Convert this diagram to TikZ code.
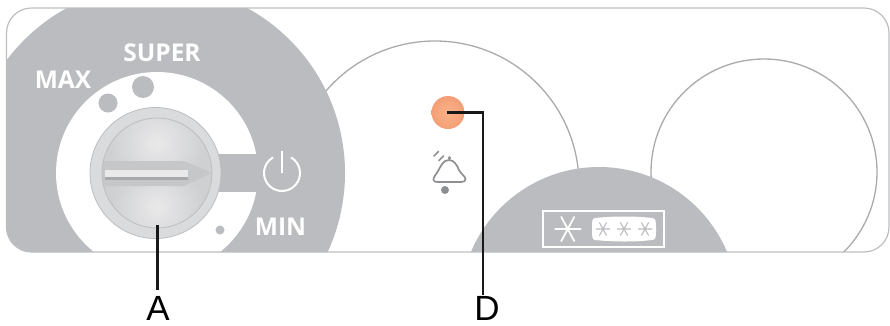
\documentclass[tikz,border=0pt]{standalone}
\usepackage{fontspec}
\setmainfont{Liberation Sans}
\newfontfamily\panelfont[Scale=1]{Open Sans}
\usetikzlibrary{shadings}
\definecolor{panelgrey}{HTML}{BBBCBF}
\definecolor{arcgrey}{HTML}{A9AAAE}
\definecolor{ringgrey}{HTML}{DADBDC}
\definecolor{edgegrey}{HTML}{BDBEC0}
\definecolor{discedge}{HTML}{CFD0D2}
\definecolor{disclight}{HTML}{E9E9EA}
\definecolor{barfill}{HTML}{C6C7C9}
\definecolor{ledin}{HTML}{F8B388}
\definecolor{ledout}{HTML}{F49E76}
\definecolor{bellgrey}{HTML}{8E8F92}
\tikzset{
  paneltext/.style={text=white,font=\panelfont\bfseries\fontsize{24.5}{24.5}\selectfont,inner sep=0pt},
  callout/.style={font=\fontsize{35}{35}\selectfont,inner sep=0pt,text=black},
  leader/.style={draw=black!90,line width=2.3pt},
  arcline/.style={draw=arcgrey,line width=1.3pt},
  whiteline/.style={draw=white,line width=1.8pt},
  minidot/.style={fill=panelgrey,draw=none},
  bellline/.style={draw=bellgrey,line width=1.7pt,line cap=round,line join=round},
  tinystar/.style={draw=panelgrey,line width=1.1pt}
}
\begin{document}
\begin{tikzpicture}[x=1pt,y=-1pt]
\useasboundingbox (0,0) rectangle (890,325);
\begin{scope}
  \clip[rounded corners=25pt] (6.5,8) rectangle (889,252);
  \draw[arcline] (435,185) circle[radius=144];
  \draw[arcline] (764,172) circle[radius=113];
  \fill[panelgrey] (157,173) circle[radius=188];
  \fill[white] (157,173) circle[radius=101];
  \fill[panelgrey] (200,153.5) rectangle (258,192);
  \fill[panelgrey] (599,306) circle[radius=139];
\end{scope}
\draw[draw=edgegrey,line width=1.2pt,rounded corners=25pt] (6.5,8) rectangle (889,252);
% dial dots
\fill[minidot] (143,87) circle[radius=11];
\fill[minidot] (108,103) circle[radius=9.5];
\fill[minidot] (220,230) circle[radius=4.5];
% texts
\node[paneltext] (super) at (162,53) {SUPER};
\node[paneltext] (max) at (63,80) {MAX};
\node[paneltext] (min) at (280.5,227) {MIN};
% power icon
\draw[white,line width=2pt] (291,157.4) arc[start angle=-60,end angle=240,radius=18];
\draw[white,line width=2pt] (282,151) -- (282,173);
% knob
\draw[edgegrey,line width=.8pt,fill=ringgrey] (155.5,173) circle[radius=65.5];
\begin{scope}
  \clip (157,173) circle[radius=55];
  \fill[discedge] (90,110) rectangle (225,240);
  \shade[inner color=disclight,outer color=discedge] (157,143) circle[radius=48];
  \shade[inner color=disclight,outer color=discedge] (157,207) circle[radius=46];
  \fill[barfill] (95,161) -- (184,161) -- (212,173) -- (184,186) -- (95,186) -- cycle;
  \fill[panelgrey!90!black] (105,176) rectangle (188,179.5);
  \fill[disclight] (105,170) rectangle (188,177);
\end{scope}
\draw[edgegrey,line width=.8pt] (157,173) circle[radius=55];
% LED
\shade[inner color=ledin,outer color=ledout] (448,112.5) circle[radius=16.5];
% bell
\fill[bellgrey] (445,190) circle[radius=4];
\fill[bellgrey] (449.5,158) circle[radius=1.8];
\draw[bellline] (449,160) .. controls (443,160) and (441,166) .. (438,171) .. controls (436,175) and (433,177) .. (433.5,180) .. controls (434,182) and (436,182) .. (438,182) -- (461,182) .. controls (464,182) and (466,181) .. (465.5,179) .. controls (465,176) and (461,174) .. (459,170) .. controls (457,165) and (454,160) .. (449,160) -- cycle;
\draw[bellline] (434,156) -- (438.5,151.5);
\draw[bellline] (439,160.5) -- (443.5,156);
% freezer symbol
\draw[whiteline] (543,211) rectangle (664,247);
\draw[whiteline] (554.5,229) -- (581,229) (561,216.5) -- (574.5,241.5) (574.5,216.5) -- (561,241.5);
\fill[white] (595,218) .. controls (615,216) and (635,216) .. (652,218) .. controls (656,218.5) and (656,221) .. (656,229) .. controls (656,237) and (656,240) .. (652,240) .. controls (635,242) and (615,242) .. (595,240) .. controls (592,239.5) and (592,237) .. (592,229) .. controls (592,221) and (592,218.5) .. (595,218) -- cycle;
\foreach \sx in {603,624,645}{
  \draw[tinystar] (\sx-7,229) -- (\sx+7,229) (\sx-3.6,222.5) -- (\sx+3.6,235.5) (\sx+3.6,222.5) -- (\sx-3.6,235.5);
}
% callouts
\node[callout] (labelA) at (158,308.5) {A};
\node[callout] (labelD) at (487,308.5) {D};
\coordinate (knobpt) at (157.5,225);
\coordinate (ledpt) at (447,112.5);
\draw[leader] (knobpt) -- (157.5,290);
\draw[leader] (ledpt) -- (483,112.5) -- (483,295);
\end{tikzpicture}
\end{document}
